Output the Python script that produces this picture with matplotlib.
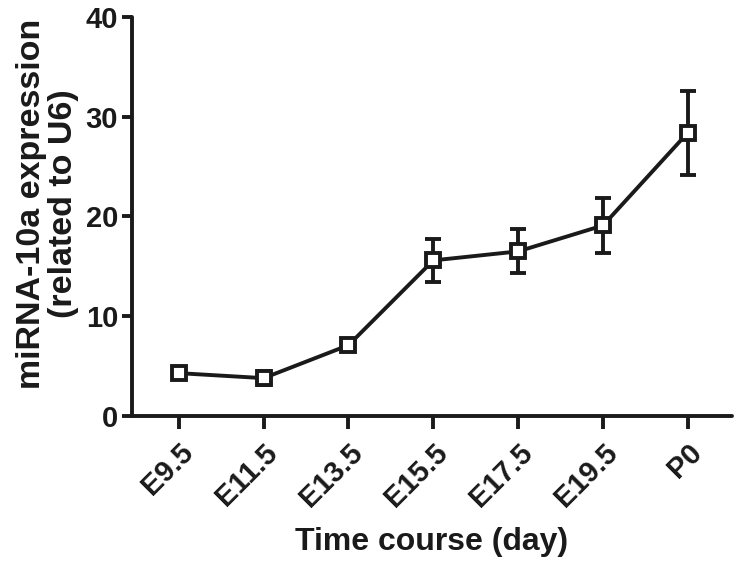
import matplotlib
matplotlib.use("Agg")
import matplotlib.pyplot as plt

# data
stages = ["E9.5", "E11.5", "E13.5", "E15.5", "E17.5", "E19.5", "P0"]
expression = [4.3, 3.8, 7.1, 15.6, 16.5, 19.1, 28.4]
sem = [0.3, 0.7, 0.3, 2.15, 2.2, 2.8, 4.2]

plt.rcParams["font.family"] = ["Liberation Sans", "DejaVu Sans"]
plt.rcParams["font.weight"] = "bold"

INK = "#1a1a1a"

fig = plt.figure(figsize=(7.42, 5.63), dpi=100)
ax = fig.add_axes([0.178, 0.261, 0.8085, 0.709])

x = list(range(len(stages)))
ax.errorbar(x, expression, yerr=sem, color=INK, lw=2.8, elinewidth=2.8,
            capsize=5.5, capthick=2.8, marker="s", ms=10.5, mew=2.8,
            mfc="white", mec=INK, zorder=3)

ax.set_xlim(-0.55, 6.52)
ax.set_ylim(0, 40)
ax.set_yticks([0, 10, 20, 30, 40])
ax.set_xticks(x)
ax.set_xticklabels(stages, rotation=45, ha="right", rotation_mode="anchor")

for s in ("top", "right"):
    ax.spines[s].set_visible(False)
for s in ("left", "bottom"):
    ax.spines[s].set_linewidth(2.8)
    ax.spines[s].set_color(INK)
    ax.spines[s].set_capstyle("round")

ax.tick_params(axis="y", length=7, width=2.8, color=INK, labelsize=21,
               pad=3, labelcolor=INK)
ax.tick_params(axis="x", length=9, width=2.8, color=INK, labelsize=21,
               pad=7, labelcolor=INK)
for lab in ax.get_xticklabels() + ax.get_yticklabels():
    lab.set_fontweight("bold")

ax.set_xlabel("Time course (day)", fontsize=23, fontweight="bold",
              color=INK, labelpad=11)
ax.set_ylabel("miRNA-10a expression\n(related to U6)", fontsize=24.5,
              fontweight="bold", color=INK, linespacing=1.08)
ax.yaxis.set_label_coords(-0.141, 0.531)
ax.yaxis.label.set_verticalalignment("center")

fig.savefig("out.png", dpi=100)
